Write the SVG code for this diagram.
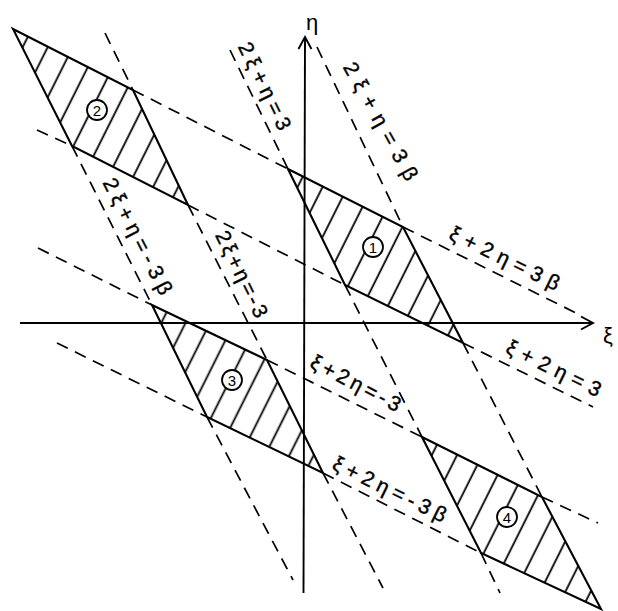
<svg xmlns="http://www.w3.org/2000/svg" width="618" height="611" viewBox="0 0 618 611">
<style>
.dash{stroke:#000;stroke-width:1.7;stroke-dasharray:12 8;fill:none}
.axis{stroke:#000;stroke-width:1.9;fill:none}
.shape{stroke:#000;stroke-width:2.1;stroke-linejoin:miter}
.hl{stroke:#000;stroke-width:1.8}
.lab{font-family:"Liberation Sans","DejaVu Sans",sans-serif;font-size:21px;fill:#000;stroke:#000;stroke-width:0.4;text-anchor:middle;dominant-baseline:central}
.num{font-family:"Liberation Sans","DejaVu Sans",sans-serif;font-size:15px;fill:#000;text-anchor:middle;dominant-baseline:central}
.ax{font-family:"Liberation Sans","DejaVu Sans",sans-serif;font-size:22px;fill:#000;text-anchor:middle;dominant-baseline:central}
.circ{fill:#fff;stroke:#000;stroke-width:1.8}
</style>
<defs>
<marker id="arr" viewBox="-14 -8 16 16" markerWidth="16" markerHeight="16" refX="0" refY="0" orient="auto" markerUnits="userSpaceOnUse">
<path d="M-12,-6.5 L0,0 L-12,6.5" fill="none" stroke="#000" stroke-width="1.9"/>
</marker>
<pattern id="h1" patternUnits="userSpaceOnUse" width="22.32" height="100" patternTransform="translate(288,169) rotate(26.565)"><line class="hl" x1="16.7" y1="-1" x2="16.7" y2="101"/></pattern>
<pattern id="h2" patternUnits="userSpaceOnUse" width="22.40" height="100" patternTransform="translate(13,29) rotate(26.565)"><line class="hl" x1="16.8" y1="-1" x2="16.8" y2="101"/></pattern>
<pattern id="h3" patternUnits="userSpaceOnUse" width="21.72" height="100" patternTransform="translate(152,305) rotate(26.565)"><line class="hl" x1="16.3" y1="-1" x2="16.3" y2="101"/></pattern>
<pattern id="h4" patternUnits="userSpaceOnUse" width="22.57" height="100" patternTransform="translate(422,437) rotate(26.565)"><line class="hl" x1="16.9" y1="-1" x2="16.9" y2="101"/></pattern>
</defs>
<rect width="618" height="611" fill="#fff"/>
<g id="connectors">
<line class="axis" x1="20" y1="323" x2="593" y2="323" marker-end="url(#arr)"/>
<line class="axis" x1="303.5" y1="593" x2="305" y2="37" marker-end="url(#arr)"/>
<line class="dash" x1="317" y1="47" x2="403" y2="227"/>
<line class="dash" x1="463" y1="343" x2="542" y2="497"/>
<line class="dash" x1="230" y1="50" x2="288" y2="169"/>
<line class="dash" x1="345" y1="285" x2="422" y2="437"/>
<line class="dash" x1="481" y1="553" x2="500" y2="593"/>
<line class="dash" x1="105" y1="33" x2="133" y2="90"/>
<line class="dash" x1="188" y1="205" x2="267" y2="360"/>
<line class="dash" x1="323" y1="473" x2="383" y2="588"/>
<line class="dash" x1="72" y1="146" x2="152" y2="305"/>
<line class="dash" x1="207" y1="417" x2="293" y2="580"/>
<line class="dash" x1="133" y1="90" x2="288" y2="169"/>
<line class="dash" x1="403" y1="227" x2="576" y2="313"/>
<line class="dash" x1="37" y1="130" x2="72" y2="146"/>
<line class="dash" x1="188" y1="205" x2="345" y2="285"/>
<line class="dash" x1="463" y1="343" x2="593" y2="407"/>
<line class="dash" x1="38" y1="248" x2="152" y2="305"/>
<line class="dash" x1="267" y1="360" x2="422" y2="437"/>
<line class="dash" x1="542" y1="497" x2="598" y2="523"/>
<line class="dash" x1="57" y1="343" x2="207" y2="417"/>
<line class="dash" x1="323" y1="473" x2="481" y2="553"/>
</g>
<g id="labels">
<text class="ax" x="608" y="335">ξ</text>
<text class="ax" x="312" y="22">η</text>
<text class="lab" transform="translate(505,258) rotate(26)" textLength="120" lengthAdjust="spacing">ξ+2η=3β</text>
<text class="lab" transform="translate(554,368) rotate(26)" textLength="103" lengthAdjust="spacing">ξ+2η=3</text>
<text class="lab" transform="translate(356,383) rotate(27.5)" textLength="99" lengthAdjust="spacing">ξ+2η=-3</text>
<text class="lab" transform="translate(390,489) rotate(26)" textLength="124" lengthAdjust="spacing">ξ+2η=-3β</text>
<text class="lab" transform="translate(381,121) rotate(61)" textLength="132" lengthAdjust="spacing">2ξ+η=3β</text>
<text class="lab" transform="translate(265,86) rotate(64)" textLength="95" lengthAdjust="spacing">2ξ+η=3</text>
<text class="lab" transform="translate(242,274) rotate(64)" textLength="94" lengthAdjust="spacing">2ξ+η=-3</text>
<text class="lab" transform="translate(138,236) rotate(63)" textLength="128" lengthAdjust="spacing">2ξ+η=-3β</text>
</g>
<g id="region1">
<polygon class="shape" fill="url(#h1)" points="288,169 403,227 463,343 345,285"/>
<circle class="circ" cx="373" cy="247" r="10"/>
<text class="num" x="373" y="247">1</text>
</g>
<g id="region2">
<polygon class="shape" fill="url(#h2)" points="13,29 133,90 188,205 72,146"/>
<circle class="circ" cx="97" cy="110" r="10"/>
<text class="num" x="97" y="110">2</text>
</g>
<g id="region3">
<polygon class="shape" fill="url(#h3)" points="152,305 267,360 323,473 207,417"/>
<circle class="circ" cx="232" cy="380" r="10"/>
<text class="num" x="232" y="380">3</text>
</g>
<g id="region4">
<polygon class="shape" fill="url(#h4)" points="422,437 542,497 601,609 481,553"/>
<circle class="circ" cx="507" cy="517" r="10"/>
<text class="num" x="507" y="517">4</text>
</g>
</svg>
